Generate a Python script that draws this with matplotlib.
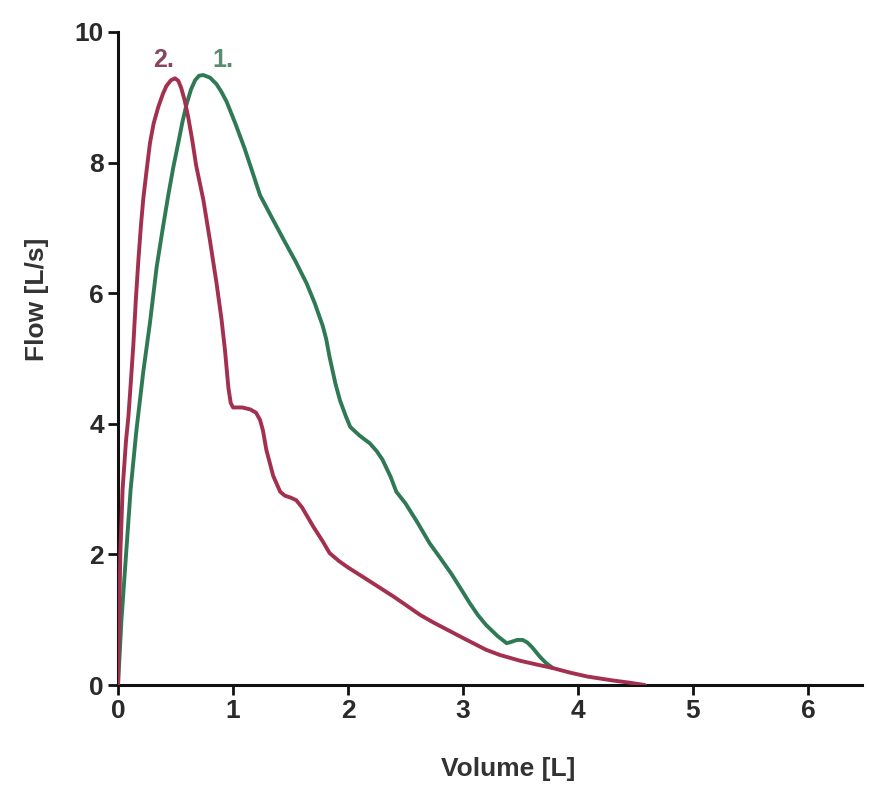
import matplotlib
matplotlib.use("Agg")
import matplotlib.pyplot as plt

# Curve 1 (green)
vol1 = [0.0, 0.03, 0.07, 0.11, 0.16, 0.22, 0.278, 0.336, 0.39, 0.437, 0.48,
        0.524, 0.56, 0.597, 0.635, 0.67, 0.705, 0.742, 0.80, 0.857, 0.90,
        0.945, 1.02, 1.1, 1.17, 1.235, 1.34, 1.44, 1.54, 1.64, 1.71, 1.78,
        1.81, 1.84, 1.89, 1.93, 1.98, 2.02, 2.1, 2.19, 2.25, 2.3, 2.37,
        2.42, 2.5, 2.6, 2.71, 2.8, 2.9, 3.0, 3.06, 3.13, 3.2, 3.3, 3.38,
        3.42, 3.47, 3.52, 3.56, 3.6, 3.67, 3.72, 3.78]
flow1 = [0.0, 1.0, 2.0, 3.0, 3.9, 4.8, 5.55, 6.4, 7.0, 7.5, 7.92,
         8.3, 8.62, 8.9, 9.12, 9.26, 9.33, 9.34, 9.3, 9.2, 9.08,
         8.93, 8.6, 8.22, 7.85, 7.5, 7.15, 6.82, 6.5, 6.15, 5.85, 5.5,
         5.3, 5.02, 4.62, 4.36, 4.12, 3.95, 3.82, 3.7, 3.58, 3.45, 3.19,
         2.96, 2.78, 2.5, 2.17, 1.95, 1.7, 1.42, 1.25, 1.07, 0.92, 0.75, 0.64,
         0.66, 0.69, 0.69, 0.65, 0.58, 0.43, 0.34, 0.26]

# Curve 2 (red)
vol2 = [0.0, 0.01, 0.02, 0.04, 0.07, 0.09, 0.11, 0.133, 0.155, 0.177, 0.20,
        0.22, 0.25, 0.278, 0.31, 0.35, 0.39, 0.42, 0.46, 0.496, 0.525, 0.55,
        0.58, 0.61, 0.645, 0.68, 0.742, 0.80, 0.857, 0.90, 0.93, 0.96, 0.98,
        1.0, 1.08, 1.15, 1.2, 1.235, 1.26, 1.29, 1.35, 1.41, 1.45, 1.5,
        1.55, 1.6, 1.7, 1.78, 1.84, 1.92, 2.0, 2.17, 2.4, 2.63, 2.74, 2.87,
        3.0, 3.1, 3.2, 3.32, 3.5, 3.65, 3.78, 3.93, 4.08, 4.3, 4.45, 4.58]
flow2 = [0.0, 1.0, 2.0, 3.0, 3.75, 4.1, 4.6, 5.2, 5.9, 6.5, 7.05,
         7.45, 7.9, 8.3, 8.6, 8.85, 9.05, 9.17, 9.26, 9.29, 9.25, 9.14,
         8.95, 8.7, 8.35, 7.95, 7.43, 6.8, 6.15, 5.6, 5.13, 4.55, 4.32,
         4.25, 4.25, 4.22, 4.17, 4.06, 3.9, 3.6, 3.2, 2.96, 2.9, 2.87,
         2.83, 2.72, 2.42, 2.2, 2.02, 1.9, 1.8, 1.61, 1.35, 1.07, 0.96, 0.84,
         0.72, 0.63, 0.54, 0.46, 0.37, 0.31, 0.26, 0.19, 0.13, 0.07, 0.035, 0.0]

xticks = [0, 1, 2, 3, 4, 5, 6]
yticks = [0, 2, 4, 6, 8, 10]

plt.rcParams['font.family'] = ['Liberation Sans', 'DejaVu Sans']

fig = plt.figure(figsize=(8.69, 7.87), dpi=100)
ax = fig.add_axes([0.1358, 0.1296, 0.8562, 0.8298])

green = "#2f7a55"
red = "#a3304f"
ax.plot(vol2, flow2, color=red, lw=2.8, solid_capstyle="round",
        solid_joinstyle="round", zorder=3)
ax.plot(vol1, flow1, color=green, lw=2.8, solid_capstyle="round",
        solid_joinstyle="round", zorder=2)

ax.set_xlim(0, 6.47)
ax.set_ylim(0, 10)
ax.set_xticks(xticks)
ax.set_yticks(yticks)
for s in ["top", "right"]:
    ax.spines[s].set_visible(False)
for s in ["left", "bottom"]:
    ax.spines[s].set_linewidth(2.2)
    ax.spines[s].set_color("#111111")
ax.spines["left"].set_bounds(0, 10)
ax.tick_params(direction="out", length=7, width=2, colors="#111111",
               labelsize=19, pad=3)
for lab in ax.get_xticklabels() + ax.get_yticklabels():
    lab.set_fontweight("bold")
    lab.set_color("#2a2a2a")

ax.set_xlabel("Volume [L]", fontsize=19, fontweight="bold", color="#333333")
ax.set_ylabel("Flow [L/s]", fontsize=19, fontweight="bold", color="#333333")
ax.xaxis.set_label_coords(0.525, -0.11)
ax.yaxis.set_label_coords(-0.093, 0.59)

ax.text(0.40, 9.57, "2.", color="#86465e", fontsize=18, fontweight="bold",
        ha="center", va="center")
ax.text(0.91, 9.57, "1.", color="#5a8a70", fontsize=18, fontweight="bold",
        ha="center", va="center")

fig.savefig("out.png", dpi=100)
